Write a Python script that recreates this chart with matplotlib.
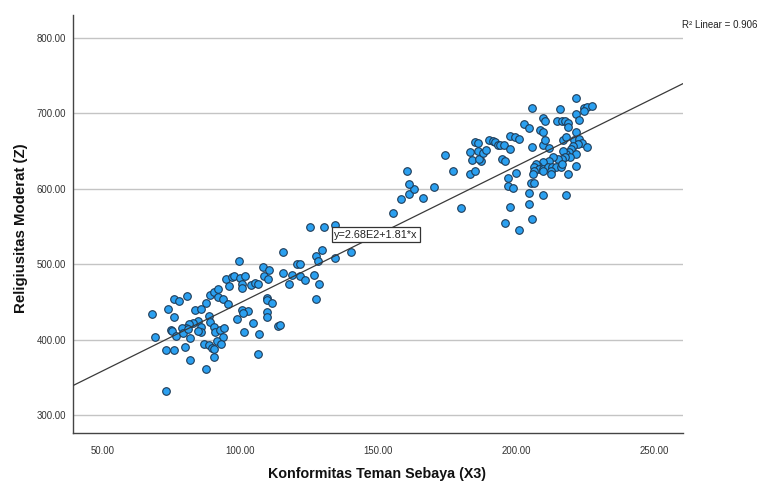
import matplotlib
matplotlib.use("Agg")
import matplotlib.pyplot as plt
import numpy as np

plt.rcParams['font.family'] = ['Liberation Sans', 'DejaVu Sans']

# Konformitas Teman Sebaya (X3)
x_values = [
    99.6, 108.1, 94.8, 96.9, 97.8, 99.8, 101.7, 100.6, 100.6, 96.0, 103.9, 105.3, 106.5, 108.5,
    75.9, 77.8, 80.7, 88.9, 90.6, 91.8, 91.8, 93.6, 87.6, 95.7, 67.9, 73.9, 75.9, 83.7, 85.8,
    88.8, 100.5, 102.7, 100.9, 98.7, 104.7, 84.5, 82.7, 81.5, 80.3, 78.9, 74.9, 75.1, 76.7,
    79.1, 80.9, 85.8, 85.8, 84.5, 89.1, 90.6, 90.8, 92.8, 94.0, 93.6, 91.6, 69.1, 81.9, 101.5,
    106.6, 86.7, 88.8, 89.7, 90.6, 93.0, 79.9, 72.9, 75.9, 90.6, 81.9, 106.5, 87.7, 72.9,
    110.5, 109.9, 115.6, 118.6, 120.5, 121.6, 121.6, 123.4, 126.5, 128.4, 117.5, 115.6, 129.6,
    127.4, 128.3, 134.4, 140.2, 125.4, 130.2, 134.1, 109.7, 109.7, 111.5, 109.7, 109.7, 113.5,
    114.5, 127.4,
    155.2, 158.2, 161.2, 163.0, 161.2, 160.3, 166.1, 170.0, 174.0, 177.0, 179.9, 183.0, 184.0,
    183.0, 185.0, 184.8, 186.0, 186.0, 187.0, 186.6, 188.0, 189.0, 190.0, 191.4, 192.3, 193.2,
    194.1, 195.6, 194.8, 195.8, 197.5, 197.7, 199.6, 200.8, 196.9, 196.9, 198.9, 199.9, 197.8,
    195.8, 200.8,
    221.6, 205.7, 215.6, 224.3, 225.5, 227.4, 224.6, 221.6, 222.6, 209.5, 210.5, 214.7, 216.5,
    217.4, 218.6, 218.6, 202.9, 204.7, 208.6, 209.5, 205.7, 209.5, 210.5, 211.7, 216.8, 217.8,
    221.6, 221.0, 222.8, 223.8, 225.5, 222.2, 220.6, 219.8, 218.9, 217.9, 216.8, 221.6, 219.2,
    217.4, 216.5, 215.0, 213.2, 211.7, 209.5, 207.7, 207.1, 206.5, 208.3, 209.5, 211.4, 212.9,
    214.4, 216.2, 216.5, 212.6, 212.6, 209.5, 206.5, 205.9, 218.6, 221.6, 205.3, 206.5, 204.7,
    209.5, 217.8, 204.7, 205.7,
]

# Religiusitas Moderat (Z)
y_values = [
    504.6, 496.7, 480.3, 483.4, 484.3, 481.6, 484.3, 473.7, 468.4, 470.6, 472.4, 474.6, 473.7, 484.7,
    453.8, 451.6, 457.3, 459.6, 462.6, 467.1, 456.0, 453.8, 448.5, 447.2, 433.9, 440.5, 429.5, 439.6, 440.5,
    431.7, 439.2, 437.4, 435.2, 427.3, 422.0, 425.1, 421.5, 420.6, 415.3, 415.3, 413.1, 411.8, 405.2,
    408.7, 414.0, 417.1, 409.6, 411.8, 422.9, 416.2, 409.6, 413.1, 414.9, 403.8, 398.5, 403.8, 402.1, 410.5,
    407.8, 394.1, 393.2, 389.7, 387.5, 395.0, 390.6, 387.0, 387.0, 377.3, 372.9, 381.7, 361.0, 331.8,
    492.8, 480.4, 488.8, 486.1, 500.3, 500.3, 483.9, 479.0, 485.2, 473.3, 474.2, 515.7, 518.8,
    510.4, 504.7, 507.8, 516.2, 548.9, 548.9, 552.4, 455.2, 452.5, 448.1, 436.2, 430.4, 418.5,
    419.8, 453.8,
    567.4, 586.4, 593.1, 599.2, 606.3, 624.0, 588.2, 601.9, 644.8, 623.1, 574.5, 648.3, 638.2,
    619.6, 623.1, 661.6, 660.7, 649.6, 637.3, 639.5, 647.0, 651.4, 664.7, 663.8, 661.6, 658.5,
    658.0, 657.2, 639.5, 636.4, 652.7, 669.5, 669.1, 666.0, 614.3, 604.1, 601.0, 620.5, 576.3,
    554.2, 545.3,
    720.3, 706.6, 704.9, 707.1, 708.0, 709.3, 703.5, 699.1, 691.2, 693.4, 690.3, 689.0, 689.8,
    689.0, 687.2, 682.3, 685.4, 680.1, 677.9, 675.7, 655.8, 658.0, 665.1, 654.0, 665.1, 668.2,
    674.8, 664.6, 666.0, 660.2, 655.8, 659.3, 656.2, 652.7, 648.3, 646.1, 650.5, 646.1, 641.7,
    641.7, 639.4, 639.4, 641.7, 637.2, 635.0, 630.6, 632.8, 628.4, 626.2, 626.2, 628.4, 628.4,
    628.4, 628.4, 632.8, 624.0, 619.6, 624.0, 624.0, 619.6, 619.6, 630.6, 607.6, 607.6, 594.3,
    591.7, 591.7, 579.8, 559.9,
]

x_ticks = [50, 100, 150, 200, 250]
y_ticks = [300, 400, 500, 600, 700, 800]
fit_intercept = 268.0
fit_slope = 1.81
fit_label = "y=2.68E2+1.81*x"
r2_label = "R\u00b2 Linear = 0.906"
x_label = "Konformitas Teman Sebaya (X3)"
y_label = "Religiusitas Moderat (Z)"

fig = plt.figure(figsize=(7.58, 4.84), dpi=100)
ax = fig.add_axes([73/758, 1 - 433/484, 610/758, 418/484])

xlim = (39.4, 260.3)
ylim = (276.5, 830.0)
ax.set_xlim(*xlim)
ax.set_ylim(*ylim)

for yt in y_ticks:
    ax.axhline(yt, color='#c4c4c4', linewidth=1.0, zorder=0)

ax.scatter(x_values, y_values, s=30, c='#2ba0f0', edgecolors='#1e3b57',
           linewidths=0.8, zorder=2)

xl = np.array(xlim)
ax.plot(xl, fit_intercept + fit_slope * xl, color='#3a3a3a', linewidth=0.9, zorder=3)

ax.text(134.0, 539.3, fit_label, fontsize=7.8, ha='left', va='center', color='#222222',
        zorder=4, bbox=dict(boxstyle='square,pad=0.2', facecolor='white',
                            edgecolor='#333333', linewidth=0.9))

ax.set_xticks(x_ticks)
ax.set_yticks(y_ticks)
ax.set_xticklabels([f"{v:.2f}" for v in x_ticks])
ax.set_yticklabels([f"{v:.2f}" for v in y_ticks])
ax.tick_params(axis='both', length=0, labelsize=6.9, colors='#333333')
ax.tick_params(axis='x', pad=9)
ax.tick_params(axis='y', pad=5)

for side in ['top', 'right']:
    ax.spines[side].set_visible(False)
for side in ['left', 'bottom']:
    ax.spines[side].set_color('#444444')
    ax.spines[side].set_linewidth(1.0)

fig.text(377.5/758, 1 - 474/484, x_label, fontsize=10.3, fontweight='bold',
         ha='center', va='center', color='#111111')
fig.text(20.7/758, 1 - 228/484, y_label, fontsize=10.8, fontweight='bold',
         ha='center', va='center', rotation=90, color='#111111')
fig.text(681.5/758, 1 - 25/484, r2_label, fontsize=7.0, ha='left', va='center',
         color='#222222')

fig.savefig('out.png', dpi=100)
